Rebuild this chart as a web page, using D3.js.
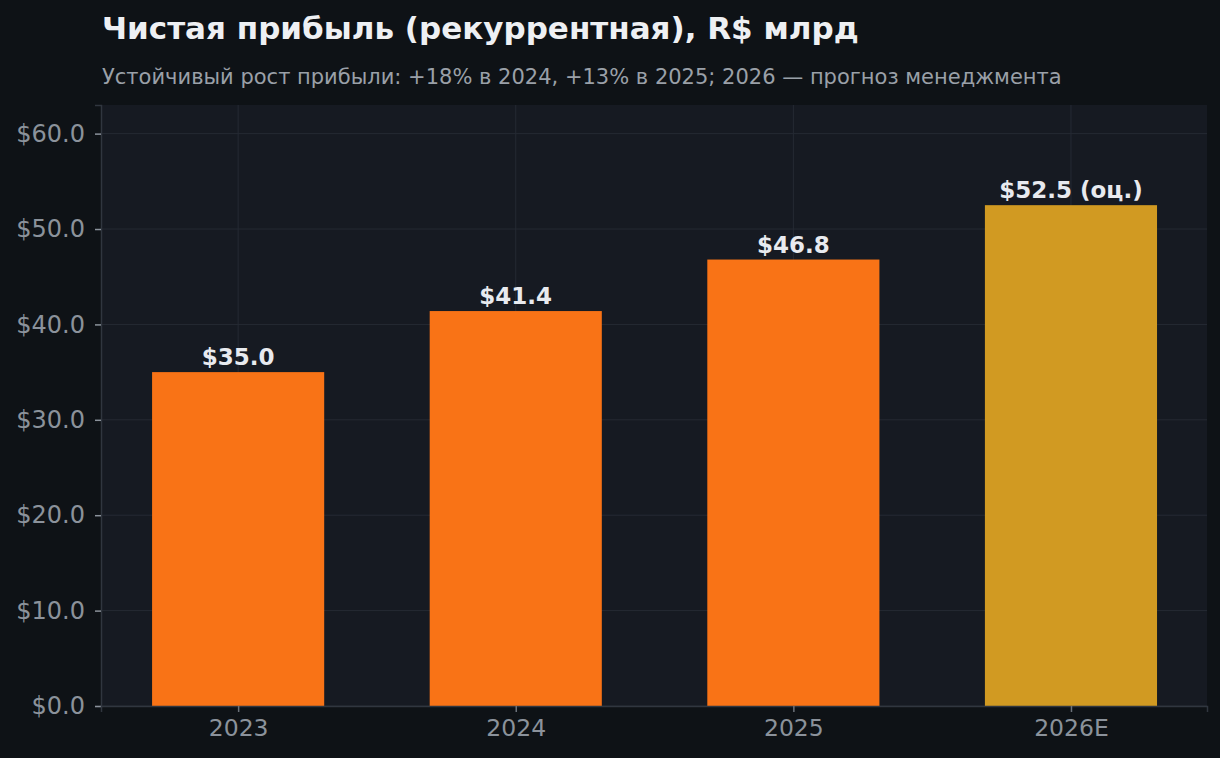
<!DOCTYPE html>
<html><head><meta charset="utf-8">
<script src="https://cdn.jsdelivr.net/npm/d3@7"></script>
<style>
html,body{margin:0;padding:0;background:#0e1216;}
svg{display:block;font-family:"DejaVu Sans",sans-serif;}
</style></head><body>
<svg id="c" width="1220" height="758"></svg>
<script>
const categories = ["2023","2024","2025","2026E"];
const values = [35.0, 41.4, 46.8, 52.5];
const labels = ["$35.0","$41.4","$46.8","$52.5 (оц.)"];
const barColors = ["#f97316","#f97316","#f97316","#d19a22"];
const yTicks = [0,10,20,30,40,50,60];

const svg = d3.select("#c");
const W=1220,H=758;
const m={l:101,r:13,t:105,b:52};
svg.append("rect").attr("width",W).attr("height",H).attr("fill","#0e1216");
const pw=W-m.l-m.r, ph=H-m.t-m.b;
const g=svg.append("g").attr("transform",`translate(${m.l},${m.t})`);
g.append("rect").attr("width",pw).attr("height",ph).attr("fill","#161a22");

const x=d3.scaleLinear().domain([-0.494,3.49]).range([0,pw]);
const y=d3.scaleLinear().domain([0,63]).range([ph,0]);
const bw=x(0.62)-x(0);

// grid
g.selectAll(".hg").data(yTicks).join("line").attr("x1",0).attr("x2",pw)
 .attr("y1",d=>y(d)).attr("y2",d=>y(d)).attr("stroke","#252a33").attr("stroke-width",1);
g.selectAll(".vg").data(categories).join("line").attr("y1",0).attr("y2",ph)
 .attr("x1",(d,i)=>x(i)).attr("x2",(d,i)=>x(i)).attr("stroke","#252a33").attr("stroke-width",1);

// bars
g.selectAll(".bar").data(values).join("rect")
 .attr("x",(d,i)=>x(i)-bw/2).attr("width",bw)
 .attr("y",d=>y(d)).attr("height",d=>ph-y(d))
 .attr("fill",(d,i)=>barColors[i]);

g.selectAll(".lab").data(values).join("text")
 .attr("x",(d,i)=>x(i)).attr("y",d=>y(d)-7)
 .attr("text-anchor","middle").attr("font-size",23).attr("font-weight","bold")
 .attr("fill","#e8eaef").text((d,i)=>labels[i]);

// axes
const ya=g.append("g").call(d3.axisLeft(y).tickValues(yTicks).tickFormat(d=>"$"+d.toFixed(1)).tickSize(6).tickPadding(10));
const xa=g.append("g").attr("transform",`translate(0,${ph})`)
 .call(d3.axisBottom(x).tickValues([0,1,2,3]).tickFormat(i=>categories[i]).tickSize(6).tickPadding(7));
[ya,xa].forEach(a=>{
 a.select(".domain").attr("stroke","#30363f").attr("stroke-width",1.5);
 a.selectAll(".tick line").attr("stroke","#8b929b").attr("stroke-width",1.5);
 a.selectAll(".tick text").attr("fill","#8b929b").attr("font-family","DejaVu Sans");
});
ya.selectAll(".tick text").attr("font-size",24);
xa.selectAll(".tick text").attr("font-size",23.5);
xa.selectAll(".tick line").attr("stroke","#6b717a");

svg.append("text").attr("x",102).attr("y",39).attr("font-size",31).attr("font-weight","bold")
 .attr("fill","#eef0f3").text("Чистая прибыль (рекуррентная), R$ млрд");
svg.append("text").attr("x",102).attr("y",84).attr("font-size",21)
 .attr("fill","#9aa0a8").text("Устойчивый рост прибыли: +18% в 2024, +13% в 2025; 2026 — прогноз менеджмента");
</script></body></html>
